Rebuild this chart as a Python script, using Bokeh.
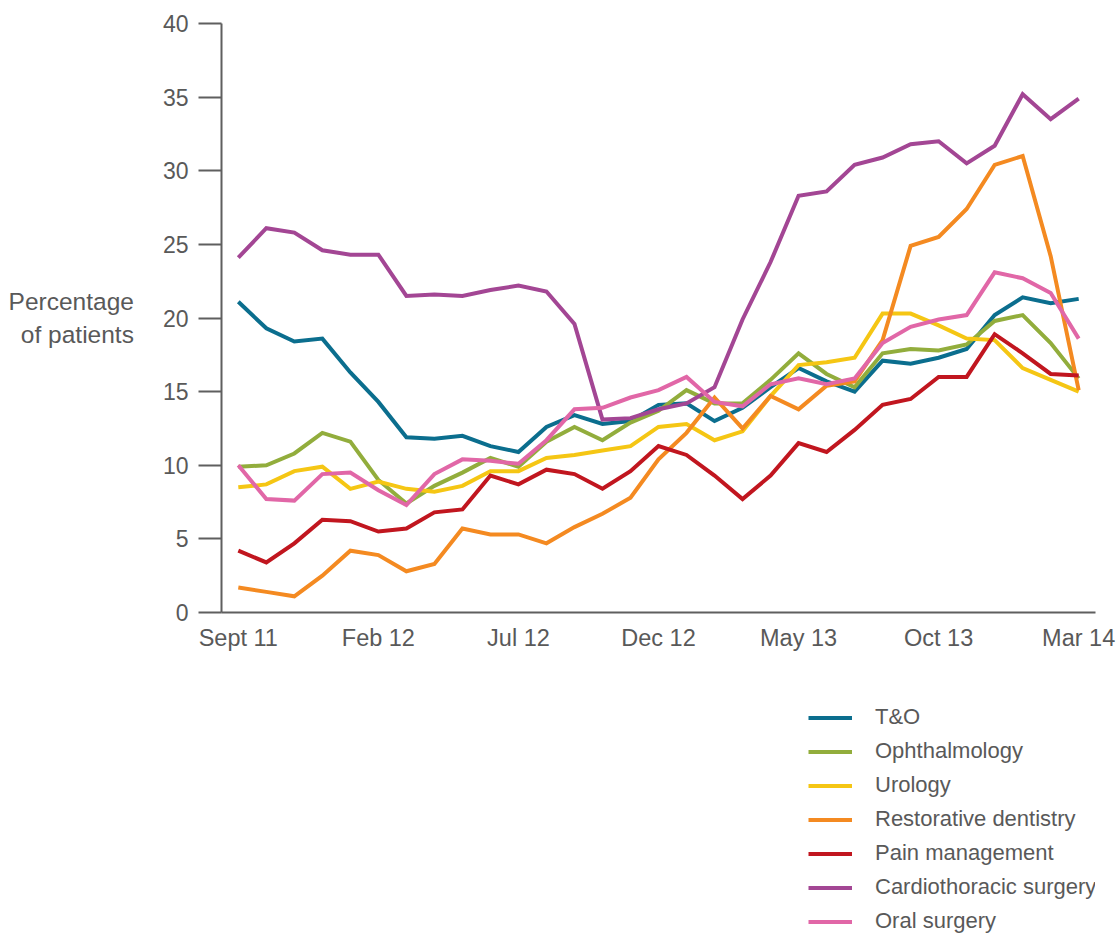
from bokeh.plotting import figure
from bokeh.models import FixedTicker, Range1d, Legend, LegendItem
from bokeh.layouts import column
from bokeh.embed import file_html
from bokeh.resources import INLINE

months = list(range(31))  # Sept 11 .. Mar 14, monthly
tick_positions = [0, 5, 10, 15, 20, 25, 30]
tick_labels = ["Sept 11", "Feb 12", "Jul 12", "Dec 12", "May 13", "Oct 13", "Mar 14"]
y_ticks = [0, 5, 10, 15, 20, 25, 30, 35, 40]

t_and_o = [21.1, 19.3, 18.4, 18.6, 16.3, 14.3, 11.9, 11.8, 12.0, 11.3, 10.9, 12.6, 13.4, 12.8, 13.0,
           14.1, 14.2, 13.0, 13.9, 15.3, 16.6, 15.7, 15.0, 17.1, 16.9, 17.3, 17.9, 20.2, 21.4, 21.0, 21.3]
ophthalmology = [9.9, 10.0, 10.8, 12.2, 11.6, 9.0, 7.4, 8.6, 9.5, 10.5, 9.9, 11.6, 12.6, 11.7, 12.9,
                 13.7, 15.1, 14.2, 14.2, 15.8, 17.6, 16.2, 15.3, 17.6, 17.9, 17.8, 18.2, 19.8, 20.2, 18.3, 15.9]
urology = [8.5, 8.7, 9.6, 9.9, 8.4, 8.9, 8.4, 8.2, 8.6, 9.6, 9.6, 10.5, 10.7, 11.0, 11.3,
           12.6, 12.8, 11.7, 12.3, 14.7, 16.8, 17.0, 17.3, 20.3, 20.3, 19.5, 18.6, 18.5, 16.6, 15.8, 15.0]
restorative = [1.7, 1.4, 1.1, 2.5, 4.2, 3.9, 2.8, 3.3, 5.7, 5.3, 5.3, 4.7, 5.8, 6.7, 7.8,
               10.4, 12.2, 14.6, 12.5, 14.7, 13.8, 15.4, 15.7, 18.5, 24.9, 25.5, 27.4, 30.4, 31.0, 24.2, 15.1]
pain = [4.2, 3.4, 4.7, 6.3, 6.2, 5.5, 5.7, 6.8, 7.0, 9.3, 8.7, 9.7, 9.4, 8.4, 9.6,
        11.3, 10.7, 9.3, 7.7, 9.3, 11.5, 10.9, 12.4, 14.1, 14.5, 16.0, 16.0, 18.9, 17.6, 16.2, 16.1]
cardio = [24.1, 26.1, 25.8, 24.6, 24.3, 24.3, 21.5, 21.6, 21.5, 21.9, 22.2, 21.8, 19.6, 13.1, 13.2,
          13.8, 14.2, 15.3, 19.9, 23.8, 28.3, 28.6, 30.4, 30.9, 31.8, 32.0, 30.5, 31.7, 35.2, 33.5, 34.9]
oral = [10.0, 7.7, 7.6, 9.4, 9.5, 8.3, 7.3, 9.4, 10.4, 10.3, 10.1, 11.7, 13.8, 13.9, 14.6,
        15.1, 16.0, 14.3, 14.0, 15.5, 15.9, 15.5, 15.9, 18.3, 19.4, 19.9, 20.2, 23.1, 22.7, 21.7, 18.6]

series_names = ["T&O", "Ophthalmology", "Urology", "Restorative dentistry",
                "Pain management", "Cardiothoracic surgery", "Oral surgery"]
series_values = [t_and_o, ophthalmology, urology, restorative, pain, cardio, oral]
series_colors = ["#0b6e8e", "#92ad3c", "#f5c614", "#f48a21", "#c1161f", "#a34694", "#e167a7"]

FONT = "Liberation Sans"
GREY = "#595959"
AXIS = "#5f5f5f"

p = figure(frame_width=874, frame_height=589, output_backend="svg", toolbar_location=None,
           x_range=Range1d(-0.6, 30.6), y_range=Range1d(0, 40),
           min_border_left=221, min_border_top=23, min_border_right=23, min_border_bottom=78)
p.outline_line_color = None
p.grid.grid_line_color = None
p.background_fill_color = "white"

for name, vals, col in zip(series_names, series_values, series_colors):
    p.line(months, vals, line_color=col, line_width=4, line_join="miter")

xa = p.xaxis[0]
xa.ticker = FixedTicker(ticks=tick_positions)
xa.major_label_overrides = {t: l for t, l in zip(tick_positions, tick_labels)}
xa.major_tick_out = 0
xa.major_tick_in = 0
xa.minor_tick_out = 0
xa.minor_tick_in = 0
xa.axis_line_color = AXIS
xa.axis_line_width = 2
xa.major_label_text_font = FONT
xa.major_label_text_font_size = "23.5px"
xa.major_label_text_color = GREY
xa.major_label_standoff = 12

ya = p.yaxis[0]
ya.ticker = FixedTicker(ticks=y_ticks)
ya.major_tick_out = 23
ya.major_tick_in = 0
ya.minor_tick_out = 0
ya.minor_tick_in = 0
ya.axis_line_color = AXIS
ya.axis_line_width = 2
ya.major_tick_line_color = AXIS
ya.major_tick_line_width = 2
ya.major_label_text_font = FONT
ya.major_label_text_font_size = "23px"
ya.major_label_text_color = GREY
ya.major_label_standoff = 10
ya.axis_label = "Percentage\nof patients"
ya.axis_label_orientation = "horizontal"
ya.axis_label_text_font = FONT
ya.axis_label_text_font_size = "24.5px"
ya.axis_label_text_font_style = "normal"
ya.axis_label_text_color = GREY
ya.axis_label_text_align = "center"
ya.axis_label_standoff = 26

# Legend panel below the chart (same horizontal borders as the chart)
lg = figure(frame_width=874, frame_height=230, output_backend="svg", toolbar_location=None,
            x_range=Range1d(0, 1), y_range=Range1d(0, 1),
            min_border_left=221, min_border_top=14, min_border_right=23, min_border_bottom=0)
lg.axis.visible = False
lg.grid.grid_line_color = None
lg.outline_line_color = None
lg.background_fill_alpha = 0
lg.border_fill_alpha = 0
items = []
for name, col in zip(series_names, series_colors):
    r = lg.line([5, 6], [5, 6], line_color=col, line_width=4)
    items.append(LegendItem(label=name, renderers=[r]))

legend = Legend(items=items, location=(587, 0), orientation="vertical",
                label_text_font=FONT, label_text_font_size="22px", label_text_color=GREY,
                glyph_width=44, glyph_height=25, label_height=25, spacing=8,
                label_standoff=23, padding=0, margin=0, border_line_color=None,
                background_fill_alpha=0)
lg.add_layout(legend)

layout = column(p, lg, spacing=0)
html = file_html(layout, INLINE)
open("out.html", "w").write(html)
